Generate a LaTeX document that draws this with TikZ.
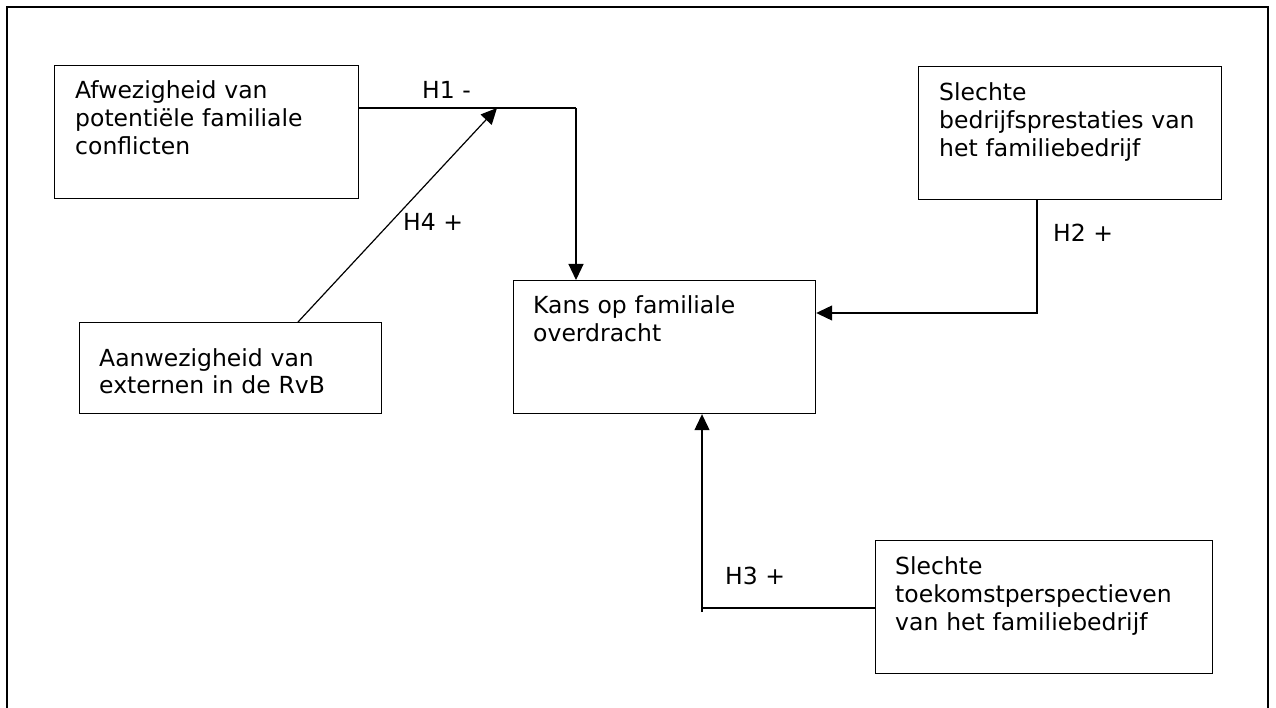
\documentclass[tikz,border=0pt]{standalone}
\usepackage{fontspec}
\setmainfont{DejaVu Sans}
\usetikzlibrary{arrows.meta}
\begin{document}
\begin{tikzpicture}[x=1pt,y=-1pt,
  box/.style={draw=black,line width=1.2pt,rectangle,inner sep=0pt,anchor=north west},
  txt/.style={anchor=base west,inner sep=0pt,align=left,text width=#1,
    font=\fontsize{23.5}{28}\selectfont},
  lbl/.style={anchor=base west,inner sep=0pt,font=\fontsize{23.5}{28}\selectfont},
  conn/.style={line width=1.2pt},
  arr/.style={line width=1.2pt,-{Triangle[length=16pt,width=15pt]}}]
\useasboundingbox (0,0) rectangle (1276,708);
% outer frame (open at the bottom)
\draw[line width=2.8pt] (7,708) -- (7,7) -- (1268,7) -- (1268,708);

% boxes
\node[box,minimum width=304pt,minimum height=133pt] (A) at (54,65) {};
\node[box,minimum width=302pt,minimum height=91pt] (B) at (79,322) {};
\node[box,minimum width=302pt,minimum height=133pt] (K) at (513,280) {};
\node[box,minimum width=303pt,minimum height=133pt] (S) at (918,66) {};
\node[box,minimum width=337pt,minimum height=133pt] (T) at (875,540) {};

% texts
\node[txt=280pt] (At) at (75,99) {Afwezigheid van\\potentiële familiale\\conflicten};
\node[txt=280pt] (Bt) at (99,366) {Aanwezigheid van\\externen in de RvB};
\node[txt=280pt] (Kt) at (533,314) {Kans op familiale\\overdracht};
\node[txt=280pt] (St) at (939,101) {Slechte\\bedrijfsprestaties van\\het familiebedrijf};
\node[txt=315pt] (Tt) at (895,574) {Slechte\\toekomstperspectieven\\van het familiebedrijf};

% junction coordinates
\coordinate (j1) at (576,108);
\coordinate (h4e) at (497,108);
\coordinate (h4s) at (298,322);
\coordinate (j2) at (1037,313);
\coordinate (j3) at (702,608);
\coordinate (j3b) at (702,612);

% connectors
\draw[conn] (A.east |- j1) -- (j1);
\draw[arr] (j1) -- (j1 |- K.north);
\draw[arr] (B.north -| h4s) -- (h4e);
\draw[arr] (S.south -| j2) -- (j2) -- (K.east |- j2);
\draw[conn] (T.west |- j3) -- (j3);
\draw[arr] (j3b) -- (j3b |- K.south);

% labels
\node[lbl] (L1) at (422,99) {H1 -};
\node[lbl] (L4) at (403,231) {H4 +};
\node[lbl] (L2) at (1053,242) {H2 +};
\node[lbl] (L3) at (725,584) {H3 +};
\end{tikzpicture}
\end{document}
